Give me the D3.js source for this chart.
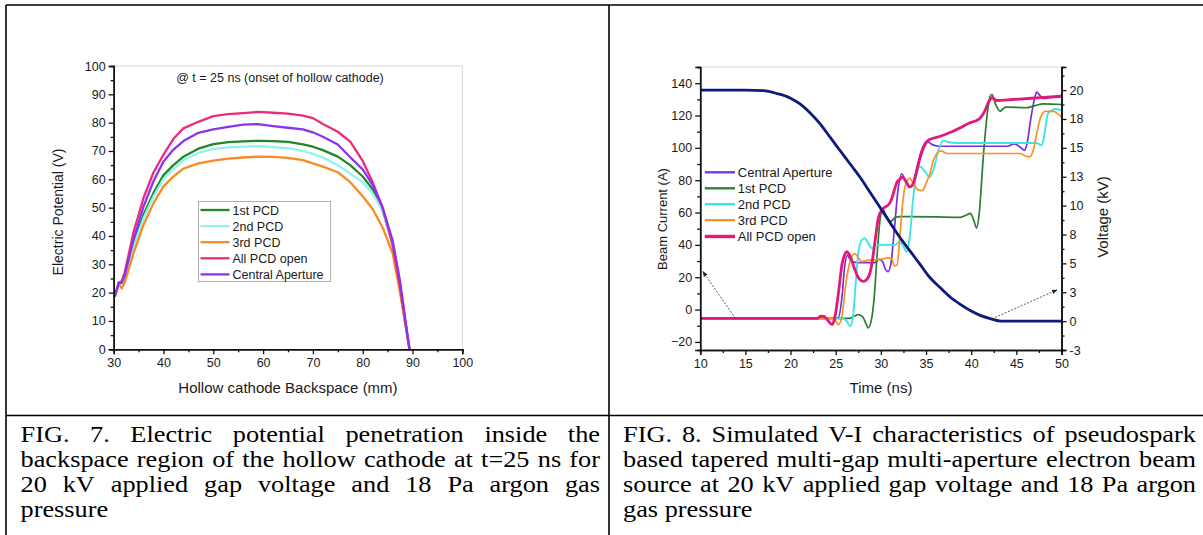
<!DOCTYPE html>
<html>
<head>
<meta charset="utf-8">
<script src="https://cdn.jsdelivr.net/npm/d3@7"></script>
<style>
  body { margin: 0; background: #fff; }
  svg { display: block; }
  text { font-family: "Liberation Sans", Arial, sans-serif; fill: #1a1a1a; }
  .cap { font-family: "Liberation Serif", "Times New Roman", serif; font-size: 22.5px; fill: #000; }
</style>
</head>
<body>
<svg id="page" width="1203" height="535"></svg>
<script>
// ---- FIG. 7 : potential along backspace (mm -> V)
const fig7X = [30.2, 31.0, 31.6, 32.2, 34, 36, 38, 40, 42, 44, 47, 50, 53, 56, 59, 62, 65, 68, 70, 72, 75, 77.5, 80, 82, 84, 86, 87.5, 89.4];
const fig7Pcd1 = [18.6, 23, 23.5, 25.5, 37.6, 47.5, 55.2, 61.5, 65, 68, 70.8, 72.4, 73.1, 73.4, 73.6, 73.5, 73.2, 72.3, 71.5, 70.3, 68, 65, 61, 56.5, 49, 37, 21, 0];
const fig7Pcd2 = [18.6, 23, 23, 25, 36.4, 46.3, 54, 60.2, 63.5, 66.8, 69.3, 70.7, 71.3, 71.5, 71.7, 71.4, 71, 70, 69, 67.7, 65, 62, 59, 55, 49, 36.5, 21, 0];
const fig7Pcd3 = [18.6, 23, 21.5, 23.5, 34, 44, 51.6, 57.5, 61, 63.8, 65.6, 66.6, 67.3, 67.7, 68, 67.9, 67.6, 66.8, 65.6, 64.5, 62.5, 59, 54, 49.5, 43, 34, 20, 0];
const fig7All = [18.6, 23.5, 24, 27, 41.5, 53.5, 62.5, 68.7, 74.3, 78, 80.3, 82.3, 83, 83.4, 83.8, 83.5, 83.2, 82.5, 81.6, 79.5, 76.8, 73.3, 66.5, 59, 50, 37, 22, 0];
const fig7Central = [18.6, 23.5, 23.5, 26, 38.8, 50.5, 59.4, 66.3, 70.5, 73.5, 76.4, 77.6, 78.5, 79.3, 79.5, 78.8, 78.2, 77.6, 76.6, 75, 72.3, 67.8, 63.5, 58, 50, 38.5, 24, 0];
const fig7Names = ['1st PCD', '2nd PCD', '3rd PCD', 'All PCD open', 'Central Aperture'];
const fig7XTicks = [30, 40, 50, 60, 70, 80, 90, 100];
const fig7YTicks = [0, 10, 20, 30, 40, 50, 60, 70, 80, 90, 100];
const fig7Note = '@ t = 25 ns (onset of hollow cathode)';

// ---- FIG. 8 : beam current (A) and voltage (kV) vs time (ns)
const caTime = [10, 24.5, 25.3, 25.7, 26.0, 26.3, 26.7, 27.3, 29.3, 29.8, 30.2, 30.5, 30.8, 31.1, 31.5, 31.9, 32.3, 32.7, 33.2, 33.6, 34.0, 34.6, 35.1, 35.7, 36.5, 44, 44.8, 45.4, 45.9, 46.2, 46.6, 47.0, 47.25, 47.6, 48.0, 48.7, 50];
const caCurrent = [-5.5, -5.5, -5, 8, 27, 33.5, 30, 29, 29, 31, 29.5, 25, 23.5, 28, 50, 74, 84, 80, 75.5, 79, 88, 100, 104, 102, 101, 101, 102.5, 100.5, 98.5, 103, 118, 130, 134.5, 132.5, 130.5, 131, 131.5];
const pcd1Time = [10, 26.5, 27.1, 27.5, 28.0, 28.3, 28.6, 29.0, 29.3, 29.6, 29.9, 30.2, 30.6, 31.1, 31.6, 32.1, 36, 38.8, 39.5, 39.9, 40.3, 40.6, 40.9, 41.35, 41.8, 42.1, 42.3, 42.7, 43.2, 43.6, 43.9, 46.1, 47.0, 48.0, 50];
const pcd1Current = [-5.5, -5.5, -4, -3.1, -4.5, -8, -11.3, -5, 10, 35, 55, 62, 58, 54.5, 57, 57.5, 57.3, 57, 58.5, 59.5, 55, 50.4, 60, 95, 122, 131.9, 133, 127, 122.7, 124.5, 125.2, 124.8, 126, 127.2, 126.8];
const pcd2Time = [10, 25.8, 26.2, 26.6, 26.9, 27.2, 27.5, 27.9, 28.2, 28.6, 29.0, 29.4, 30, 31.5, 32.1, 32.5, 32.85, 33.2, 33.6, 34.0, 34.3, 34.8, 35.4, 35.9, 36.4, 36.9, 37.5, 38.4, 44, 47.2, 47.8, 48.1, 48.5, 49.4, 50];
const pcd2Current = [-5.5, -5.5, -7, -10.3, -5, 15, 35, 43, 44.1, 41, 37.9, 39.5, 40, 40, 41.8, 39, 35.7, 45, 70, 85, 88.5, 86, 82, 88, 99, 104.5, 103.5, 103, 103, 103, 101.6, 108, 121.2, 124, 123];
const pcd3Time = [10, 24.8, 25.3, 25.7, 26.1, 26.6, 27.1, 27.5, 27.9, 28.5, 30, 30.8, 31.2, 31.5, 31.8, 32.1, 32.5, 32.85, 33.2, 33.6, 34.1, 34.6, 35.0, 35.44, 35.8, 36.2, 36.7, 37.3, 45.4, 46.0, 46.5, 46.9, 47.3, 47.7, 48.2, 49.1, 50];
const pcd3Current = [-5.5, -5.5, -9.3, -4, 15, 30, 34.8, 32, 29.7, 30.5, 31, 32, 31.5, 27, 27.5, 45, 70, 79, 81.2, 78, 74, 73.5, 78, 84.2, 92, 96.5, 98.1, 96.5, 96.5, 95, 94.5, 99, 110, 119, 122.5, 122.6, 119];
const allTime = [10, 23.0, 23.3, 23.7, 24.1, 24.6, 24.9, 25.3, 25.7, 26.0, 26.2, 26.6, 27.1, 27.6, 28.06, 28.5, 28.9, 29.35, 29.7, 30.1, 30.5, 30.8, 31.1, 31.5, 31.8, 32.1, 32.4, 32.8, 33.2, 33.5, 33.9, 34.3, 34.8, 35.26, 36.5, 37.65, 38.8, 39.86, 40.6, 41.0, 41.5, 41.9, 42.3, 42.8, 44.6, 47.25, 50];
const allCurrent = [-5.5, -5.5, -4, -4.2, -6.5, -9.3, -5, 10, 28, 34, 35.8, 33, 25, 19, 17.4, 19, 25, 42, 56, 61.5, 63.5, 64.6, 67, 74, 79, 80.5, 82, 79, 75.9, 77, 84, 93, 101, 104.7, 107, 109.5, 112.5, 115.5, 116.9, 118.5, 122.7, 128, 131, 129.3, 129.9, 130.9, 132];
const voltTime = [10, 15, 17, 18.5, 20, 21.05, 22.2, 23.3, 24.4, 25.5, 26.6, 27.7, 28.8, 29.9, 31, 32.1, 33.2, 34.3, 35.4, 36.5, 37.7, 38.8, 39.9, 41, 42.2, 43.3, 45, 50];
const voltValue = [20, 20, 19.95, 19.7, 19.3, 18.8, 18.0, 17.06, 15.9, 14.75, 13.6, 12.45, 11.15, 9.85, 8.55, 7.26, 6.1, 4.96, 3.8, 2.95, 2.07, 1.45, 0.92, 0.5, 0.2, 0, 0, 0];
const fig8Names = ['Central Aperture', '1st PCD', '2nd PCD', '3rd PCD', 'All PCD open'];
const fig8TimeTicks = [10, 15, 20, 25, 30, 35, 40, 45, 50];
const fig8CurrentTicks = [-20, 0, 20, 40, 60, 80, 100, 120, 140];
const fig8VoltTicks = [-2.5, 0, 2.5, 5, 7.5, 10, 12.5, 15, 17.5, 20];
const fig8VoltLabels = ['-3', '0', '3', '5', '8', '10', '13', '15', '18', '20'];
// arrow annotations: [from, to] in data units
const currentArrow = [[13.9, -5.5], [10.3, 23.5]];
const voltArrow = [[42.3, 0.2], [49.5, 2.7]];

// ---- captions
const fig7Caption = [
  'FIG. 7. Electric potential penetration inside the',
  'backspace region of the hollow cathode at t=25 ns for',
  '20 kV applied gap voltage and 18 Pa argon gas',
  'pressure'
];
const fig8Caption = [
  'FIG. 8. Simulated V-I characteristics of pseudospark',
  'based tapered multi-gap multi-aperture electron beam',
  'source at 20 kV applied gap voltage and 18 Pa argon',
  'gas pressure'
];

const svg = d3.select('#page');
svg.append('rect').attr('width', 1203).attr('height', 535).attr('fill', '#fff');

// table borders
const border = svg.append('g').attr('stroke', '#000').attr('stroke-width', 1.6);
border.append('line').attr('x1', 6).attr('x2', 1203).attr('y1', 5).attr('y2', 5);
border.append('line').attr('x1', 6).attr('x2', 6).attr('y1', 5).attr('y2', 535);
border.append('line').attr('x1', 609).attr('x2', 609).attr('y1', 5).attr('y2', 535);
border.append('line').attr('x1', 6).attr('x2', 1203).attr('y1', 415.5).attr('y2', 415.5);

function styleAxis(g) {
  g.select('.domain').attr('stroke', '#111').attr('stroke-width', 1.5);
  g.selectAll('.tick line').attr('stroke', '#111').attr('stroke-width', 1.3);
  g.selectAll('.tick text').attr('font-size', 12.5).attr('fill', '#1a1a1a')
    .attr('font-family', '"Liberation Sans", Arial, sans-serif');
}

function minorAxis(axis, values) {
  return axis.tickValues(values).tickSize(3).tickFormat('');
}

function midpoints(ticks) {
  return ticks.slice(1).map((t, i) => (t + ticks[i]) / 2);
}

// ================= FIG. 7 =================
{
  const x = d3.scaleLinear().domain([30, 100]).range([113.7, 462.3]);
  const y = d3.scaleLinear().domain([0, 100]).range([349.3, 66]);
  const g = svg.append('g');

  g.append('path')
    .attr('d', `M${x(30)},${y(100)}H${x(100)}V${y(0)}`)
    .attr('fill', 'none').attr('stroke', '#d8d8d8').attr('stroke-width', 1);

  const series = [fig7Pcd1, fig7Pcd2, fig7Pcd3, fig7All, fig7Central];
  const colors = ['#23862a', '#8cf5f0', '#f98a25', '#ee2a7b', '#8a34f0'];
  const line = d3.line().x((d, i) => x(fig7X[i])).y((d) => y(d));
  series.forEach((s, k) => {
    g.append('path').datum(s)
      .attr('fill', 'none').attr('stroke', colors[k]).attr('stroke-width', 2.3)
      .attr('stroke-linejoin', 'round').attr('d', line);
  });

  g.append('g').attr('transform', `translate(0,${y(0)})`)
    .call(minorAxis(d3.axisBottom(x), midpoints(fig7XTicks))).call(styleAxis);
  g.append('g').attr('transform', `translate(${x(30)},0)`)
    .call(minorAxis(d3.axisLeft(y), midpoints(fig7YTicks))).call(styleAxis);
  g.append('g').attr('transform', `translate(0,${y(0)})`)
    .call(d3.axisBottom(x).tickValues(fig7XTicks).tickSize(5).tickPadding(4)).call(styleAxis);
  g.append('g').attr('transform', `translate(${x(30)},0)`)
    .call(d3.axisLeft(y).tickValues(fig7YTicks).tickSize(5).tickPadding(3)).call(styleAxis);

  g.append('text').attr('x', 288).attr('y', 393).attr('text-anchor', 'middle')
    .attr('font-size', 15).text('Hollow cathode Backspace (mm)');
  g.append('text').attr('transform', 'translate(63,212) rotate(-90)').attr('text-anchor', 'middle')
    .attr('font-size', 14).text('Electric Potential (V)');
  g.append('text').attr('x', 280).attr('y', 82).attr('text-anchor', 'middle')
    .attr('font-size', 12.5).text(fig7Note);

  const leg = g.append('g');
  leg.append('rect').attr('x', 198.5).attr('y', 201.5).attr('width', 132).attr('height', 80)
    .attr('fill', '#fff').attr('stroke', '#b0b0b0').attr('stroke-width', 1);
  fig7Names.forEach((name, k) => {
    const cy = 210 + k * 16.1;
    leg.append('line').attr('x1', 200.5).attr('x2', 229.5).attr('y1', cy).attr('y2', cy)
      .attr('stroke', colors[k]).attr('stroke-width', 2.3);
    leg.append('text').attr('x', 232.5).attr('y', cy + 4.5).attr('font-size', 12.5).text(name);
  });
}

// ================= FIG. 8 =================
{
  const x = d3.scaleLinear().domain([10, 50]).range([700.2, 1061.5]);
  const y = d3.scaleLinear().domain([-25, 150]).range([350, 67]);
  const yv = d3.scaleLinear().domain([-2.5, 22]).range([350, 67]);
  const g = svg.append('g');

  g.append('line').attr('x1', x(10)).attr('x2', x(50)).attr('y1', 67).attr('y2', 67)
    .attr('stroke', '#d8d8d8').attr('stroke-width', 1);

  const curve = d3.line().curve(d3.curveMonotoneX);
  const currents = [
    [caTime, caCurrent, '#7b2fd6', 1.7],
    [pcd1Time, pcd1Current, '#2e7d2e', 1.7],
    [pcd2Time, pcd2Current, '#3fe3ea', 1.9],
    [pcd3Time, pcd3Current, '#f79223', 1.7],
    [allTime, allCurrent, '#e3187b', 2.8]
  ];
  currents.forEach(([ts, vs, color, w]) => {
    g.append('path')
      .attr('d', curve(ts.map((t, i) => [x(t), y(vs[i])])))
      .attr('fill', 'none').attr('stroke', color).attr('stroke-width', w)
      .attr('stroke-linejoin', 'round');
  });
  g.append('path')
    .attr('d', curve(voltTime.map((t, i) => [x(t), yv(voltValue[i])])))
    .attr('fill', 'none').attr('stroke', '#0e1a7c').attr('stroke-width', 2.8);

  // dashed arrows
  const defs = svg.append('defs');
  defs.append('marker').attr('id', 'head').attr('viewBox', '0 0 10 10')
    .attr('refX', 9).attr('refY', 5).attr('markerWidth', 7).attr('markerHeight', 7)
    .attr('orient', 'auto').append('path').attr('d', 'M0,1L10,5L0,9Z').attr('fill', '#222');
  g.append('line')
    .attr('x1', x(currentArrow[0][0])).attr('y1', y(currentArrow[0][1]))
    .attr('x2', x(currentArrow[1][0])).attr('y2', y(currentArrow[1][1]))
    .attr('stroke', '#333').attr('stroke-width', 0.8).attr('stroke-dasharray', '2,1.5')
    .attr('marker-end', 'url(#head)');
  g.append('line')
    .attr('x1', x(voltArrow[0][0])).attr('y1', yv(voltArrow[0][1]))
    .attr('x2', x(voltArrow[1][0])).attr('y2', yv(voltArrow[1][1]))
    .attr('stroke', '#333').attr('stroke-width', 0.8).attr('stroke-dasharray', '2,1.5')
    .attr('marker-end', 'url(#head)');

  g.append('g').attr('transform', `translate(0,350)`)
    .call(minorAxis(d3.axisBottom(x), midpoints(fig8TimeTicks))).call(styleAxis);
  g.append('g').attr('transform', `translate(${x(10)},0)`)
    .call(minorAxis(d3.axisLeft(y), midpoints(fig8CurrentTicks).concat([150]))).call(styleAxis);
  g.append('g').attr('transform', `translate(${x(50)},0)`)
    .call(minorAxis(d3.axisRight(yv), midpoints(fig8VoltTicks).concat([21.25]))).call(styleAxis);
  g.append('g').attr('transform', `translate(0,350)`)
    .call(d3.axisBottom(x).tickValues(fig8TimeTicks).tickSize(5).tickPadding(4)).call(styleAxis);
  g.append('g').attr('transform', `translate(${x(10)},0)`)
    .call(d3.axisLeft(y).tickValues(fig8CurrentTicks).tickSize(5).tickPadding(3)).call(styleAxis);
  g.append('g').attr('transform', `translate(${x(50)},0)`)
    .call(d3.axisRight(yv).tickValues(fig8VoltTicks).tickSize(5).tickPadding(3)
      .tickFormat((d, i) => fig8VoltLabels[i])).call(styleAxis);

  g.append('text').attr('x', 881).attr('y', 393).attr('text-anchor', 'middle')
    .attr('font-size', 15).text('Time (ns)');
  g.append('text').attr('transform', 'translate(667,219) rotate(-90)').attr('text-anchor', 'middle')
    .attr('font-size', 13).text('Beam Current (A)');
  g.append('text').attr('transform', 'translate(1108,217) rotate(-90)').attr('text-anchor', 'middle')
    .attr('font-size', 15).text('Voltage (kV)');

  const legY = [172.3, 188.3, 204.2, 220.2, 236.5];
  fig8Names.forEach((name, k) => {
    g.append('line').attr('x1', 704.8).attr('x2', 735).attr('y1', legY[k]).attr('y2', legY[k])
      .attr('stroke', currents[k][2]).attr('stroke-width', currents[k][3] + 0.6);
    g.append('text').attr('x', 737.8).attr('y', legY[k] + 4.7).attr('font-size', 13).text(name);
  });
}

// ================= captions (justified, glyphs a bit wide as in the scan) =================
const capStretch = 1.17;
function caption(lines, x0, x1, y0, dy) {
  lines.forEach((line, i) => {
    const words = line.split(' ');
    const yy = y0 + i * dy;
    const nodes = words.map((w) => svg.append('text').attr('class', 'cap').text(w));
    const widths = nodes.map((n) => n.node().getComputedTextLength() * capStretch);
    const last = i === lines.length - 1;
    const gap = last ? 6.6 : (x1 - x0 - d3.sum(widths)) / (words.length - 1);
    let xx = x0;
    nodes.forEach((n, j) => {
      n.attr('transform', `translate(${xx},${yy}) scale(${capStretch},1)`);
      xx += widths[j] + gap;
    });
  });
}
caption(fig7Caption, 20.5, 600, 441.5, 25.2);
caption(fig8Caption, 623, 1196, 441.5, 25.2);
</script>
</body>
</html>
